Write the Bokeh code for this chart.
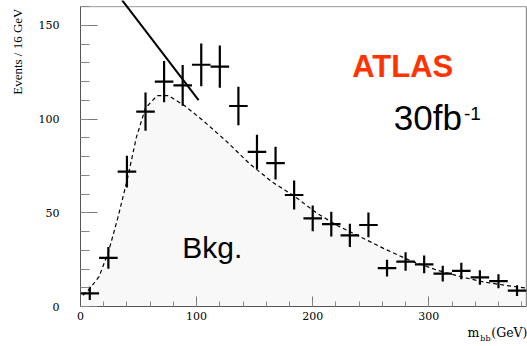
import numpy as np
from bokeh.plotting import figure
from bokeh.models import Range1d, Label, FixedTicker, ColumnDataSource, Title
from bokeh.embed import file_html
from bokeh.resources import INLINE

# ---- data ----
bin_centers = [8, 24, 40, 56, 72, 88, 104, 120, 136, 152, 168, 184,
               200, 216, 232, 248, 264, 280, 296, 312, 328, 344, 360, 376]
events = [7, 26, 72, 104, 120, 118, 129, 128, 107, 82.5, 76.5, 59.5,
          47, 44, 38, 43.5, 20.5, 24, 22.5, 17.5, 19, 15.5, 13.5, 8.5]
errors = [3.5, 5.8, 8.5, 10.2, 11.0, 10.9, 11.4, 11.3, 10.3, 9.1, 8.7, 7.7,
          6.9, 6.6, 6.2, 6.6, 4.5, 4.9, 4.7, 4.2, 4.4, 3.9, 3.7, 2.9]
bin_half_width = 8

bkg_x = [2, 8, 16, 24, 32, 40, 48, 56, 66, 76, 90, 106, 126, 146, 165, 184,
         204, 222, 241, 261, 284, 307, 327, 347, 366, 384]
bkg_y = [6, 9.5, 16, 29, 47, 67, 90, 106, 112.5, 112.5, 107, 99, 88, 76, 66.5, 59,
         49.6, 43, 37.2, 31, 24.5, 19.4, 16, 13.1, 11.3, 9.8]

fit_line_x = [35.8, 101.7]
fit_line_y = [163.5, 110.1]

x_ticks = [0, 100, 200, 300]
y_ticks = [0, 50, 100, 150]

NB = "\u00a0"

# ---- figure ----
p = figure(width=527, height=346, output_backend="svg", toolbar_location=None,
           x_range=Range1d(0, 385), y_range=Range1d(0, 163.3),
           min_border_left=80, min_border_right=0, min_border_top=0,
           min_border_bottom=40)
p.outline_line_color = None
p.xgrid.visible = False
p.ygrid.visible = False
p.background_fill_color = "white"
p.border_fill_color = "white"

# background fill + dashed curve
p.varea(x=bkg_x, y1=[0] * len(bkg_x), y2=bkg_y, fill_color="#f8f8f8")
p.line(bkg_x, bkg_y, line_color="black", line_width=1.2, line_dash="4 3")

# frame top/right borders
p.line([0, 384], [160, 160], line_color="#999999", line_width=1)
p.line([384, 384], [0, 160], line_color="#777777", line_width=1)

# data crosses
src = ColumnDataSource(dict(
    x=bin_centers, y=events,
    ylo=[e - d for e, d in zip(events, errors)],
    yhi=[e + d for e, d in zip(events, errors)],
    xlo=[c - bin_half_width for c in bin_centers],
    xhi=[c + bin_half_width for c in bin_centers]))
p.segment(x0="x", y0="ylo", x1="x", y1="yhi", source=src,
          line_color="black", line_width=2.2)
p.segment(x0="xlo", y0="y", x1="xhi", y1="y", source=src,
          line_color="black", line_width=2.2)

# solid line
p.line(fit_line_x, fit_line_y, line_color="black", line_width=2)

# ---- axes ----
for ax in (p.xaxis, p.yaxis):
    ax.axis_line_color = "#555555"
    ax.major_tick_line_color = "#777777"
    ax.minor_tick_line_color = "#888888"
    ax.major_tick_out = 0
    ax.minor_tick_out = 0
    ax.major_label_text_font = "DejaVu Serif"
    ax.major_label_text_font_size = "11px"
    ax.major_label_text_color = "black"

p.xaxis.ticker = FixedTicker(ticks=x_ticks, minor_ticks=list(range(0, 385, 20)))
p.yaxis.ticker = FixedTicker(ticks=y_ticks, minor_ticks=list(range(0, 161, 10)))
p.xaxis.major_tick_in = 10
p.xaxis.minor_tick_in = 5
p.yaxis.major_tick_in = 17
p.yaxis.minor_tick_in = 9
p.yaxis.major_label_standoff = 21
p.xaxis.major_label_standoff = 5
p.yaxis.bounds = (0, 160)
p.xaxis.bounds = (0, 384)

# axis titles as side-panel titles
p.add_layout(Title(text="Events / 16 GeV", align="right", offset=8,
                   vertical_align="top",
                   text_font="Liberation Serif", text_font_size="13px",
                   text_font_style="normal", text_color="black",
                   standoff=18), "left")
p.add_layout(Title(text="m" + NB * 3 + "(GeV)", align="right", offset=0,
                   text_font="DejaVu Serif", text_font_size="12.5px",
                   text_font_style="normal", text_color="black",
                   standoff=0), "below")
p.add_layout(Title(text="bb", align="right", offset=37, vertical_align="top",
                   text_font="DejaVu Serif", text_font_size="8px",
                   text_font_style="normal", text_color="black",
                   standoff=-11), "below")

# ---- in-plot texts ----
def sx(px):
    return (px - 80) / 1.161

def sy(py):
    return (306 - py) / 1.8738

p.add_layout(Label(x=sx(351.7), y=sy(66), text="ATLAS",
                   text_font="Liberation Sans", text_font_style="bold",
                   text_font_size="31px", text_color="#ff3300",
                   text_baseline="alphabetic"))
p.add_layout(Label(x=sx(393.3), y=sy(117), text="30fb",
                   text_font="Liberation Sans", text_font_size="35px",
                   text_color="black", text_baseline="alphabetic"))
p.add_layout(Label(x=sx(463.5), y=sy(113.5), text="-1",
                   text_font="Liberation Sans", text_font_size="19px",
                   text_color="black", text_baseline="alphabetic"))
p.add_layout(Label(x=sx(181.7), y=sy(247), text="Bkg.",
                   text_font="Liberation Sans", text_font_size="30px",
                   text_color="black", text_baseline="alphabetic"))

open("out.html", "w").write(file_html(p, INLINE))
